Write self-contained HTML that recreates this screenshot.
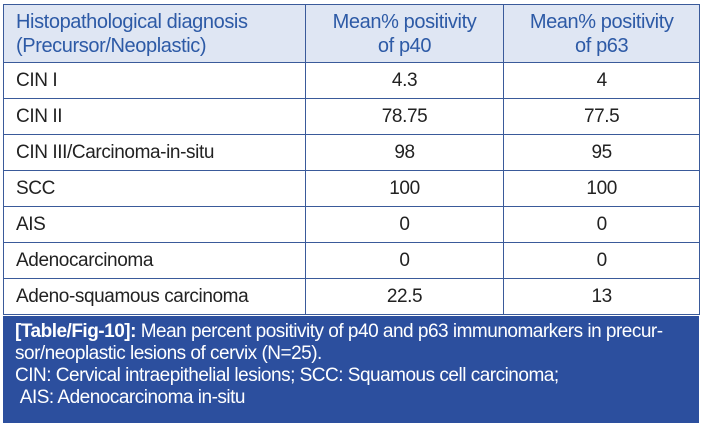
<!DOCTYPE html>
<html><head><style>
body{margin:0;width:702px;height:421px;background:#fff;font-family:"Liberation Sans",sans-serif;position:relative;overflow:hidden}
.t{position:absolute;left:3px;top:4px;width:697px;border-collapse:collapse}
.t td{border:1.5px solid #3a5a9a;font-size:19px;color:#222;padding:0 0 0 12px;height:35px;letter-spacing:-0.4px}
.t td.c{text-align:center;padding:0}
.t tr.h td{background:#dfe6f3;color:#2d5aa6;height:57px;font-size:20px;line-height:24px}
.cap{position:absolute;left:3px;top:316px;width:684px;height:102px;background:#2c4f9e;color:#fff;font-size:19px;line-height:22px;padding:5px 0 0 12px;letter-spacing:-0.5px;white-space:nowrap}
</style></head><body>
<table class="t">
<colgroup><col style="width:302px"><col style="width:199px"><col style="width:196px"></colgroup>
<tr class="h"><td>Histopathological diagnosis<br>(Precursor/Neoplastic)</td><td class="c">Mean% positivity<br>of p40</td><td class="c">Mean% positivity<br>of p63</td></tr>
<tr><td>CIN I</td><td class="c">4.3</td><td class="c">4</td></tr>
<tr><td>CIN II</td><td class="c">78.75</td><td class="c">77.5</td></tr>
<tr><td>CIN III/Carcinoma-in-situ</td><td class="c">98</td><td class="c">95</td></tr>
<tr><td>SCC</td><td class="c">100</td><td class="c">100</td></tr>
<tr><td>AIS</td><td class="c">0</td><td class="c">0</td></tr>
<tr><td>Adenocarcinoma</td><td class="c">0</td><td class="c">0</td></tr>
<tr><td>Adeno-squamous carcinoma</td><td class="c">22.5</td><td class="c">13</td></tr>
</table>
<div class="cap"><b>[Table/Fig-10]:</b> Mean percent positivity of p40 and p63 immunomarkers in precur-<br>sor/neoplastic lesions of cervix (N=25).<br>CIN: Cervical intraepithelial lesions; SCC: Squamous cell carcinoma;<br>&nbsp;AIS: Adenocarcinoma in-situ</div>
</body></html>
